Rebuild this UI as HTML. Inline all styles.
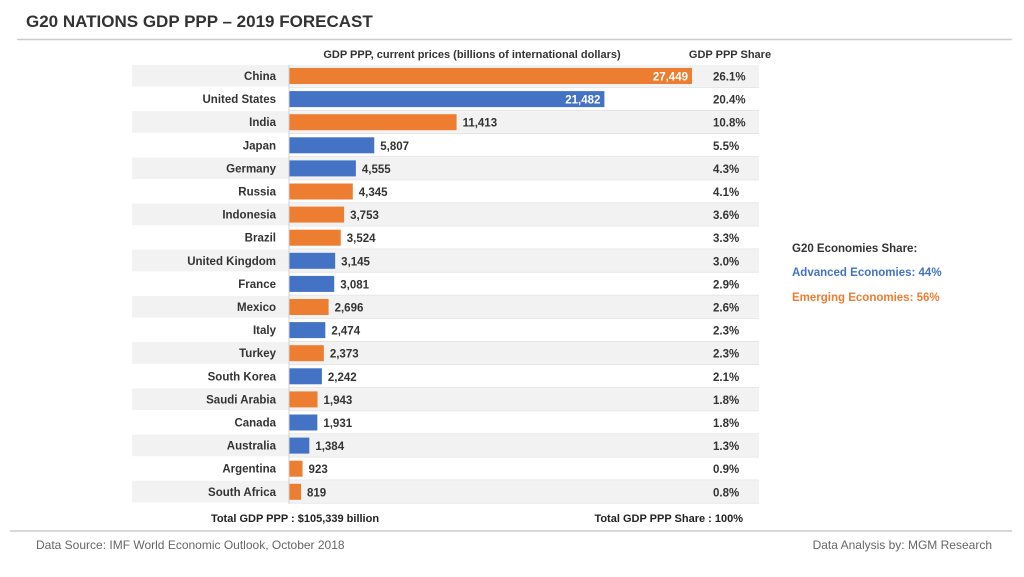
<!DOCTYPE html>
<html><head><meta charset="utf-8"><style>
html,body{margin:0;padding:0;background:#fff;width:1024px;height:577px;overflow:hidden}
svg text{font-family:"Liberation Sans",sans-serif}
</style></head><body>
<svg id="c" width="1024" height="577" xmlns="http://www.w3.org/2000/svg">
<text x="26" y="27" font-size="17" font-weight="bold" fill="#333">G20 NATIONS GDP PPP – 2019 FORECAST</text>
<line x1="17" y1="39.5" x2="1012" y2="39.5" stroke="#ccc" stroke-width="1.5"/>
<text x="472" y="58" font-size="11" font-weight="bold" fill="#333" text-anchor="middle">GDP PPP, current prices (billions of international dollars)</text>
<text x="730" y="58" font-size="11" font-weight="bold" fill="#333" text-anchor="middle">GDP PPP Share</text>
<g id="rows"></g>
<text x="295" y="522" font-size="11" font-weight="bold" fill="#222" text-anchor="middle">Total GDP PPP : $105,339 billion</text>
<text x="743" y="522" font-size="11" font-weight="bold" fill="#222" text-anchor="end">Total GDP PPP Share : 100%</text>
<line x1="10" y1="531" x2="1012" y2="531" stroke="#ccc" stroke-width="1.5"/>
<text x="36" y="549" font-size="12" fill="#666">Data Source: IMF World Economic Outlook, October 2018</text>
<text x="992" y="549" font-size="12" fill="#666" text-anchor="end">Data Analysis by: MGM Research</text>
<text x="792" y="252" font-size="11.5" font-weight="bold" fill="#333">G20 Economies Share:</text>
<text x="792" y="276" font-size="11.5" font-weight="bold" fill="#4472c4">Advanced Economies: 44%</text>
<text x="792" y="301" font-size="11.5" font-weight="bold" fill="#ed7d31">Emerging Economies: 56%</text>
</svg>
<script>
const countries=["China","United States","India","Japan","Germany","Russia","Indonesia","Brazil","United Kingdom","France","Mexico","Italy","Turkey","South Korea","Saudi Arabia","Canada","Australia","Argentina","South Africa"];
const gdpValues=[27449,21482,11413,5807,4555,4345,3753,3524,3145,3081,2696,2474,2373,2242,1943,1931,1384,923,819];
const shares=["26.1%","20.4%","10.8%","5.5%","4.3%","4.1%","3.6%","3.3%","3.0%","2.9%","2.6%","2.3%","2.3%","2.1%","1.8%","1.8%","1.3%","0.9%","0.8%"];
const advanced=[false,true,false,true,true,false,false,false,true,true,false,true,false,true,false,true,true,false,false];
const NS="http://www.w3.org/2000/svg";
const g=document.getElementById("rows");
const x0=289,pxPer=403/27449,rowTop=65,rowH=23.1;
const xs=v=>x0+v*pxPer;
const ys=i=>rowTop+i*rowH;
function mk(t,a){const e=document.createElementNS(NS,t);for(const k in a)e.setAttribute(k,a[k]);g.appendChild(e);return e;}
countries.forEach((c,i)=>{
  const y=ys(i);
  if(i%2===0){const b=mk("rect",{x:132,y:y,width:627,height:rowH-1.5,fill:"#f2f2f2"});
    
    }
  const sep=mk("line",{x1:289,x2:759,y1:y+rowH-0.75,y2:y+rowH-0.75,stroke:"#e4e4e4","stroke-width":1});
  
  
  const lab=mk("text",{x:276,y:y+15,"font-size":11.5,"font-weight":"bold",fill:"#333","text-anchor":"end"});
  lab.textContent=c;
  
  
  const v=gdpValues[i];
  const bar=mk("rect",{x:x0,y:y+3,width:xs(v)-x0,height:16,fill:advanced[i]?"#4472c4":"#ed7d31"});
  
  
  const inside=v>15000;
  const vl=mk("text",{x:inside?xs(v)-4:xs(v)+6,y:y+15.5,"font-size":11.5,"font-weight":"bold",fill:inside?"#fff":"#333","text-anchor":inside?"end":"start"});
  vl.textContent=v.toLocaleString("en-US");
  
  
  const sl=mk("text",{x:713,y:y+15.5,"font-size":11.5,"font-weight":"bold",fill:"#333"});
  sl.textContent=shares[i];
  
  
});
const ax=mk("line",{x1:289,x2:289,y1:65,y2:65+19*rowH,stroke:"#d0d0d0","stroke-width":1});


</script>
</body></html>
